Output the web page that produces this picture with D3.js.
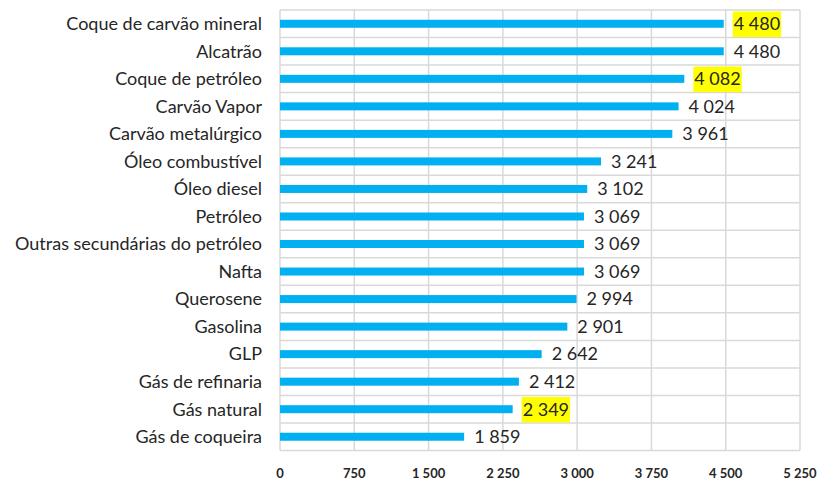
<!DOCTYPE html>
<html>
<head>
<meta charset="utf-8">
<script src="https://cdn.jsdelivr.net/npm/d3@7"></script>
<style>
  body { margin: 0; background: #fff; }
  svg { display: block; font-family: Lato, "Open Sans", sans-serif; }
</style>
</head>
<body>
<svg></svg>
<script>
const categories = [
  'Coque de carvão mineral', 'Alcatrão', 'Coque de petróleo', 'Carvão Vapor',
  'Carvão metalúrgico', 'Óleo combustível', 'Óleo diesel', 'Petróleo',
  'Outras secundárias do petróleo', 'Nafta', 'Querosene', 'Gasolina',
  'GLP', 'Gás de refinaria', 'Gás natural', 'Gás de coqueira'
];
const values = [4480, 4480, 4082, 4024, 3961, 3241, 3102, 3069,
                3069, 3069, 2994, 2901, 2642, 2412, 2349, 1859];
const highlighted = ['Coque de carvão mineral', 'Coque de petróleo', 'Gás natural'];
const xTicks = [0, 750, 1500, 2250, 3000, 3750, 4500, 5250];

const width = 817,
      height = 480,
      margin = {top: 10, right: 17, bottom: 30, left: 280};

const fmt = d3.formatLocale({decimal: ',', thousands: ' ', grouping: [3], currency: ['', '']}).format(',d');

const svg = d3.select('svg')
  .attr('width', width)
  .attr('height', height);

const x = d3.scaleLinear()
  .domain([0, 5250])
  .range([margin.left, width - margin.right]);

const y = d3.scaleBand()
  .domain(categories)
  .range([margin.top, height - margin.bottom + 0.5]);

// grid: vertical lines at ticks, horizontal lines at category boundaries
const grid = svg.append('g')
  .attr('stroke', '#d9d9d9')
  .attr('stroke-width', 1.5);

grid.selectAll('line.v')
  .data(xTicks)
  .enter().append('line')
  .attr('class', 'v')
  .attr('x1', d => x(d)).attr('x2', d => x(d))
  .attr('y1', y.range()[0]).attr('y2', y.range()[1]);

const bounds = categories.map(c => y(c)).concat([y.range()[1]]);
grid.selectAll('line.h')
  .data(bounds)
  .enter().append('line')
  .attr('class', 'h')
  .attr('x1', x(0)).attr('x2', x(5250))
  .attr('y1', d => d).attr('y2', d => d);

const barH = 8;

svg.append('g')
  .selectAll('rect')
  .data(categories)
  .enter().append('rect')
  .attr('x', x(0))
  .attr('y', d => y(d) + y.bandwidth() / 2 - barH / 2)
  .attr('width', (d, i) => x(values[i]) - x(0))
  .attr('height', barH)
  .attr('fill', '#00b0f0');

// value labels, some with yellow highlight
const labels = svg.append('g')
  .selectAll('g')
  .data(categories)
  .enter().append('g')
  .attr('transform', (d, i) => 'translate(' + [x(values[i]) + 10, y(d) + y.bandwidth() / 2] + ')');

labels.append('text')
  .attr('dy', '0.35em')
  .attr('font-size', 18)
  .attr('fill', '#262626')
  .text((d, i) => fmt(values[i]));

labels.filter(d => highlighted.includes(d))
  .insert('rect', 'text')
  .attr('x', -1)
  .attr('y', -y.bandwidth() / 2 + 1.5)
  .attr('height', y.bandwidth() - 2)
  .attr('width', function() {
    return this.parentNode.querySelector('text').getComputedTextLength() + 2;
  })
  .attr('fill', '#ffff00');

// category labels
svg.append('g')
  .selectAll('text')
  .data(categories)
  .enter().append('text')
  .attr('x', margin.left - 18)
  .attr('y', d => y(d) + y.bandwidth() / 2)
  .attr('dy', '0.35em')
  .attr('text-anchor', 'end')
  .attr('font-size', 18)
  .attr('fill', '#262626')
  .text(d => d);

// x axis tick labels
svg.append('g')
  .selectAll('text')
  .data(xTicks)
  .enter().append('text')
  .attr('x', d => x(d))
  .attr('y', 473)
  .attr('dy', '0.35em')
  .attr('text-anchor', 'middle')
  .attr('font-size', 13)
  .attr('font-weight', 'bold')
  .attr('fill', '#262626')
  .text(d => fmt(d));
</script>
</body>
</html>
